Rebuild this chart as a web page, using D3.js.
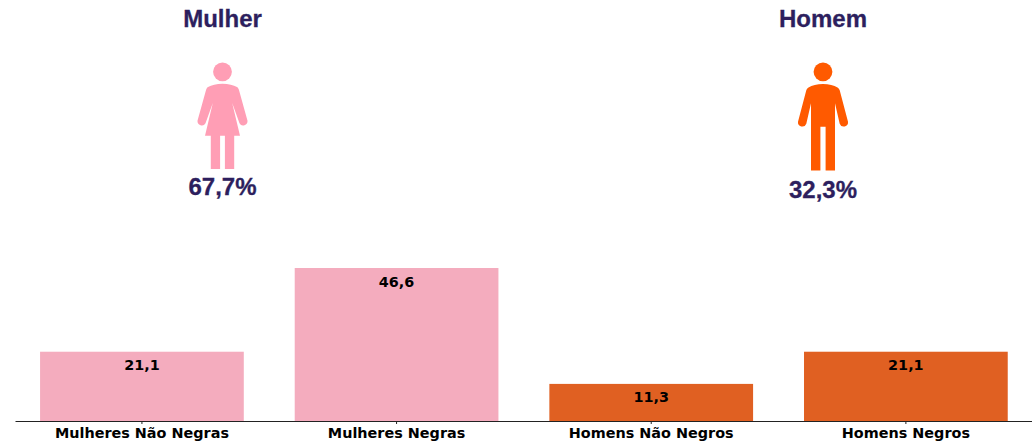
<!DOCTYPE html>
<html>
<head>
<meta charset="utf-8">
<script src="https://cdnjs.cloudflare.com/ajax/libs/d3/7.8.5/d3.min.js"></script>
<style>
  html, body { margin: 0; padding: 0; background: #fff; }
  svg { display: block; }
  .bar-label, .x-axis text { font-family: "DejaVu Sans", sans-serif; font-weight: bold; font-size: 14.4px; fill: #000; }
  .big { font-family: "Liberation Sans", Arial, sans-serif; font-weight: bold; fill: #2d1f5e; stroke: #2d1f5e; stroke-width: 0.3px; text-anchor: middle; font-size: 24px; }
</style>
</head>
<body>
<div id="chart"></div>
<script>
// data
const categories = ["Mulheres Não Negras", "Mulheres Negras", "Homens Não Negros", "Homens Negros"];
const values = [21.1, 46.6, 11.3, 21.1];
const barColors = ["#f4acbe", "#f4acbe", "#e06022", "#e06022"];
const groups = ["Mulher", "Homem"];
const shares = ["67,7%", "32,3%"];

const width = 1033, height = 443;
const axisY = 421;

const svg = d3.select("#chart").append("svg")
  .attr("width", width)
  .attr("height", height);

const x = d3.scaleBand()
  .domain(categories)
  .range([14.6, 1033.2])
  .paddingInner(0.2)
  .paddingOuter(0.1);

const y = d3.scaleLinear()
  .domain([0, 46.6])
  .range([axisY, 268]);

// bars
svg.append("g")
  .selectAll("rect")
  .data(values)
  .join("rect")
    .attr("x", (d, i) => x(categories[i]))
    .attr("y", d => y(d))
    .attr("width", x.bandwidth())
    .attr("height", d => y(0) - y(d))
    .attr("fill", (d, i) => barColors[i]);

// value labels
svg.append("g")
  .selectAll("text")
  .data(values)
  .join("text")
    .attr("class", "bar-label")
    .attr("x", (d, i) => x(categories[i]) + x.bandwidth() / 2)
    .attr("y", d => y(d) + 18.5)
    .attr("text-anchor", "middle")
    .text(d => d3.format(".1f")(d).replace(".", ","));

// x axis
svg.append("g")
  .attr("class", "x-axis")
  .attr("transform", `translate(0, ${axisY})`)
  .call(d3.axisBottom(x).tickSizeOuter(0).tickSizeInner(3).tickPadding(4))
  .call(g => g.select(".domain").attr("stroke", "#222").attr("d", "M15.5,0.5H1032"))
  .call(g => g.selectAll(".tick line").attr("stroke", "#222"));

// pictograms, drawn around x = 0 and moved over
const womanPath = "M0,83.7 C-6,83.7 -11,85 -14.5,87 C-15.5,87.6 -16,88.5 -16.4,89.8 L-25,120.7 A4.3,4.3 0 0 0 -17,123.2 L-9.7,103 L-17.5,135.7 L-11.7,135.7 L-11.7,169 L-2.4,169 L-2.4,135.7 L2.4,135.7 L2.4,169 L11.7,169 L11.7,135.7 L17.5,135.7 L9.7,103 L17,123.2 A4.3,4.3 0 0 0 25,120.7 L16.4,89.8 C16,88.5 15.5,87.6 14.5,87 C11,85 6,83.7 0,83.7 Z";
const manPath = "M0,84 C-6,84 -11,85.5 -14.5,87.5 C-15.5,88.1 -16.3,89 -16.7,90.3 L-25,121.7 A4.3,4.3 0 0 0 -16.7,123.7 L-12,103.3 L-12,170.5 L-2.6,170.5 L-2.6,126.7 L2.6,126.7 L2.6,170.5 L12,170.5 L12,103.3 L16.7,123.7 A4.3,4.3 0 0 0 25,121.7 L16.7,90.3 C16.3,89 15.5,88.1 14.5,87.5 C11,85.5 6,84 0,84 Z";

const people = [
  { cx: 222.5, fill: "#ff9eb5", path: womanPath, shareY: 195 },
  { cx: 823, fill: "#ff5a00", path: manPath, shareY: 198 }
];

people.forEach((p, i) => {
  const g = svg.append("g").attr("transform", `translate(${p.cx}, 0)`);
  g.append("text").attr("class", "big").attr("y", 27).text(groups[i]);
  g.append("circle").attr("cy", 71.8).attr("r", 9.4).attr("fill", p.fill);
  g.append("path").attr("d", p.path).attr("fill", p.fill);
  g.append("text").attr("class", "big").attr("y", p.shareY).text(shares[i]);
});
</script>
</body>
</html>
